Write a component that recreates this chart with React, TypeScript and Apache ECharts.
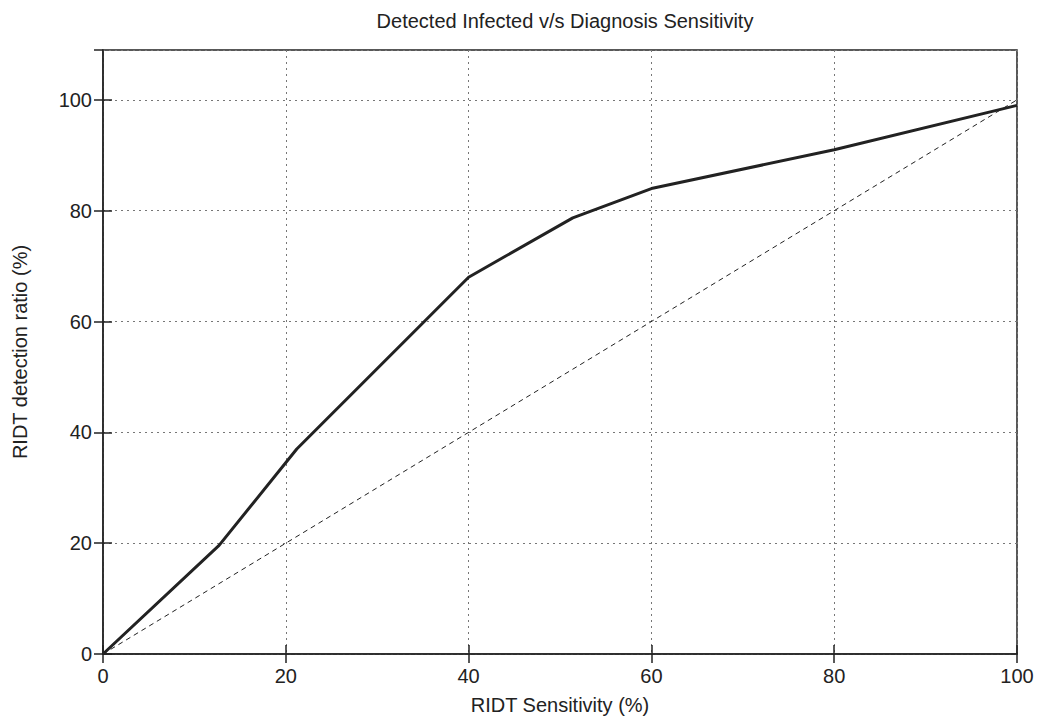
import React, { useEffect, useRef } from "react";
import * as echarts from "echarts";

const titleText = "Detected Infected v/s Diagnosis Sensitivity";
const xName = "RIDT Sensitivity (%)";
const yName = "RIDT detection ratio (%)";
const sensitivity = [0, 12.7, 21.2, 40, 51.4, 60, 80, 100];
const detection = [0, 19.6, 37, 68, 78.7, 84, 91, 99];
const diagonalX = [0, 100];
const diagonalY = [0, 100];

const FONT = "Liberation Sans, Arial, Helvetica, sans-serif";
const INK = "#222";

export default function App() {
  const ref = useRef<HTMLDivElement>(null);
  useEffect(() => {
    if (!ref.current) return;
    const chart = echarts.init(ref.current, undefined, { renderer: "svg" });
    const tickStyle = { show: true, inside: true, length: 9, lineStyle: { color: INK, width: 1.5 } };
    const hiddenAxis = {
      axisLine: { show: false },
      axisLabel: { show: false },
      splitLine: { show: false },
      axisTick: tickStyle,
    };
    chart.setOption({
      animation: false,
      backgroundColor: "#fff",
      title: {
        text: titleText,
        left: 560,
        textAlign: "center",
        top: 6,
        textStyle: { fontFamily: FONT, fontSize: 20, fontWeight: "normal", color: INK },
      },
      grid: {
        left: 103,
        right: 21,
        top: 50,
        bottom: 62,
        show: true,
        borderColor: INK,
        borderWidth: 1.5,
        containLabel: false,
      },
      xAxis: [
        {
          type: "value",
          min: 0,
          max: 100,
          interval: 20,
          position: "bottom",
          name: xName,
          nameLocation: "middle",
          nameGap: 41,
          nameTextStyle: { fontFamily: FONT, fontSize: 20, color: INK },
          axisLine: { show: true, lineStyle: { color: INK, width: 1.5 } },
          axisTick: tickStyle,
          axisLabel: { fontFamily: FONT, fontSize: 20, color: INK, margin: 12 },
          splitLine: { show: true, lineStyle: { color: "#777", width: 1, type: [2, 4] } },
        },
        { type: "value", min: 0, max: 100, interval: 20, position: "top", ...hiddenAxis },
      ],
      yAxis: [
        {
          type: "value",
          min: 0,
          max: 109,
          interval: 20,
          position: "left",
          name: yName,
          nameLocation: "middle",
          nameGap: 73,
          nameTextStyle: { fontFamily: FONT, fontSize: 20, color: INK },
          axisLine: { show: true, lineStyle: { color: INK, width: 1.5 } },
          axisTick: tickStyle,
          axisLabel: { fontFamily: FONT, fontSize: 20, color: INK, margin: 11, showMaxLabel: false },
          splitLine: { show: true, lineStyle: { color: "#777", width: 1, type: [2, 4] } },
        },
        { type: "value", min: 0, max: 109, interval: 20, position: "right", ...hiddenAxis },
      ],
      series: [
        {
          type: "line",
          data: diagonalX.map((x, i) => [x, diagonalY[i]]),
          showSymbol: false,
          lineStyle: { color: INK, width: 1, type: [5, 4] },
          z: 2,
        },
        {
          type: "line",
          data: sensitivity.map((x, i) => [x, detection[i]]),
          showSymbol: false,
          lineStyle: { color: INK, width: 3 },
          z: 3,
        },
      ],
    });
    return () => chart.dispose();
  }, []);
  return <div ref={ref} style={{ width: 1038, height: 720, position: "absolute", left: 0, top: 0 }} />;
}
